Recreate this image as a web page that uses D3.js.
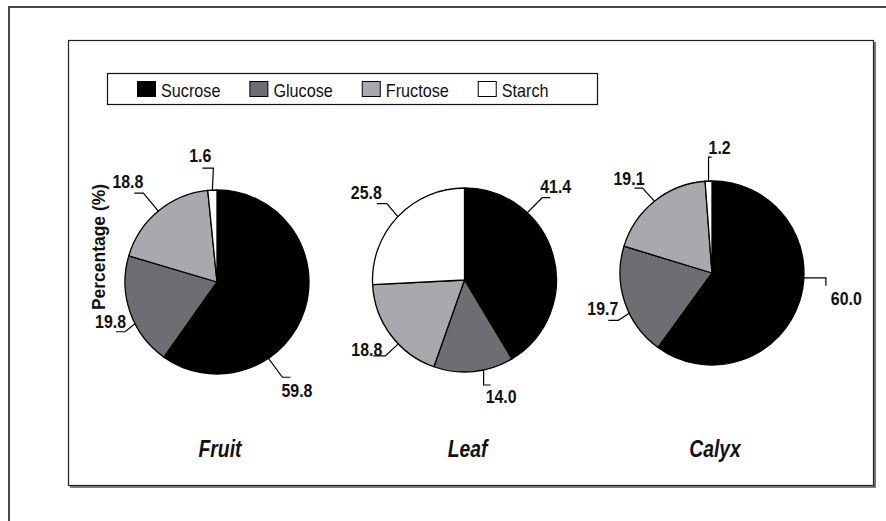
<!DOCTYPE html>
<html><head><meta charset="utf-8">
<script src="https://cdn.jsdelivr.net/npm/d3@7"></script>
<style>
html,body{margin:0;padding:0;background:#fff;}
svg{display:block;}
text{font-family:"Liberation Sans",Arial,"Helvetica",sans-serif;}
</style></head><body>
<svg id="chart" width="886" height="521"></svg>
<script>
// ---- data ----
const tissues = ["Fruit", "Leaf", "Calyx"];
const sugars = ["Sucrose", "Glucose", "Fructose", "Starch"];
const fruitValues = [59.8, 19.8, 18.8, 1.6];
const leafValues = [41.4, 14.0, 18.8, 25.8];
const calyxValues = [60.0, 19.7, 19.1, 1.2];
const yAxisTitle = "Percentage (%)";

// ---- styles / layout ----
const sugarColors = ["#000000", "#6d6e71", "#a7a9ac", "#ffffff"];
const radius = 92;
const pieCenterY = [282, 280, 273];
// leader lines: optional attach angle (deg, clockwise from 12 o'clock),
// relative polyline steps, text anchor and text offset from the last point
const labelLayout = [
  [ {angle: 146, path: [[14, 19], [8, 0]], anchor: "start", dx: -9, dy: 20},
    {angle: 243, path: [[-10, 8], [-9, 0]], anchor: "end", dx: 10, dy: -4},
    {path: [[-15, -18], [-9, 0]], anchor: "end", dx: 9, dy: -5},
    {path: [[1, -22], [-11, 0]], anchor: "end", dx: 9, dy: -6} ],
  [ {angle: 43, path: [[15, -15], [8, 0]], anchor: "start", dx: -10, dy: -5},
    {angle: 168, path: [[0, 15], [7, 0]], anchor: "start", dx: -5, dy: 18},
    {angle: 226, path: [[-13, 12], [-12, 0]], anchor: "end", dx: 9, dy: 0},
    {path: [[-11, -13], [-10, 0]], anchor: "end", dx: 5, dy: -5} ],
  [ {angle: 93, path: [[22, 0], [0, 8]], anchor: "start", dx: 5, dy: 19},
    {angle: 244, path: [[-11, 7], [-10, 0]], anchor: "end", dx: 10, dy: -5},
    {path: [[-12, -13], [-8, 0]], anchor: "end", dx: 10, dy: -3},
    {path: [[0, -24], [3, 0]], anchor: "start", dx: -3, dy: -3} ]
];

const seriesByTissue = [fruitValues, leafValues, calyxValues];

const svg = d3.select("#chart");
const color = d3.scaleOrdinal().domain(sugars).range(sugarColors);
const x = d3.scalePoint().domain(tissues).range([217, 712]);
const fmt = d3.format(".1f");

// condensed text: a regular face squeezed horizontally
function condensedText(parent, px, py, str, opts) {
  return parent.append("text")
    .attr("transform", `translate(${px},${py}) ${opts.rotate ? `rotate(${opts.rotate})` : ""} scale(${opts.sx},1)`)
    .attr("text-anchor", opts.anchor || "start")
    .attr("font-size", opts.size)
    .attr("font-weight", opts.weight || "normal")
    .attr("font-style", opts.style || "normal")
    .attr("fill", "#111")
    .text(str);
}

// outer frame (open to the right and bottom)
svg.append("path")
  .attr("d", "M9,521 V7 H886")
  .attr("fill", "none").attr("stroke", "#4a4a4a").attr("stroke-width", 2);

// plot area box with a slight drop shadow
svg.append("path")
  .attr("d", "M875,42 V487 H70")
  .attr("fill", "none").attr("stroke", "#555").attr("stroke-width", 1.6);
svg.append("rect")
  .attr("x", 68.5).attr("y", 40.5).attr("width", 805).attr("height", 445)
  .attr("fill", "none").attr("stroke", "#222").attr("stroke-width", 1.2);

// legend
const legend = svg.append("g");
legend.append("rect")
  .attr("x", 107.5).attr("y", 73.5).attr("width", 490).attr("height", 31)
  .attr("fill", "#fff").attr("stroke", "#111").attr("stroke-width", 1.2);
const legendSx = 0.9;
let lx = 137;
sugars.forEach((s) => {
  legend.append("rect")
    .attr("x", lx + 0.5).attr("y", 81.5).attr("width", 18).attr("height", 15)
    .attr("fill", color(s)).attr("stroke", "#000").attr("stroke-width", 1);
  const t = condensedText(legend, lx + 24, 97, s, {size: 18, sx: legendSx});
  lx += 24 + t.node().getComputedTextLength() * legendSx + 29;
});

// y axis title
condensedText(svg, 105, 247, yAxisTitle,
  {size: 18, sx: 0.97, weight: "bold", anchor: "middle", rotate: -90});

// pies
const pie = d3.pie().sort(null).value(d => d.value);
const arc = d3.arc().innerRadius(0).outerRadius(radius);

tissues.forEach((tissue, ti) => {
  const cx = x(tissue), cy = pieCenterY[ti];
  const g = svg.append("g").attr("transform", `translate(${cx},${cy})`);
  const slices = pie(sugars.map((s, i) => ({sugar: s, value: seriesByTissue[ti][i]})));

  g.selectAll("path.slice").data(slices).join("path")
    .attr("class", "slice")
    .attr("d", arc)
    .attr("fill", d => color(d.data.sugar))
    .attr("stroke", "#000").attr("stroke-width", 1.3)
    .attr("stroke-linejoin", "round");

  slices.forEach((d, i) => {
    const lay = labelLayout[ti][i];
    const deg = lay.angle != null ? lay.angle : (d.startAngle + d.endAngle) / 2 * 180 / Math.PI;
    const a = deg * Math.PI / 180;
    let px = radius * Math.sin(a), py = -radius * Math.cos(a);
    const pts = [[px, py]];
    lay.path.forEach(([dx, dy]) => { px += dx; py += dy; pts.push([px, py]); });
    g.append("path")
      .attr("d", d3.line()(pts))
      .attr("fill", "none").attr("stroke", "#000").attr("stroke-width", 1.2);
    condensedText(g, px + lay.dx, py + lay.dy, fmt(d.data.value),
      {size: 18.5, sx: 0.86, weight: "bold", anchor: lay.anchor});
  });

  condensedText(svg, cx + 3, 457, tissue,
    {size: 23, sx: 0.84, weight: "bold", style: "italic", anchor: "middle"});
});
</script>
</body></html>
